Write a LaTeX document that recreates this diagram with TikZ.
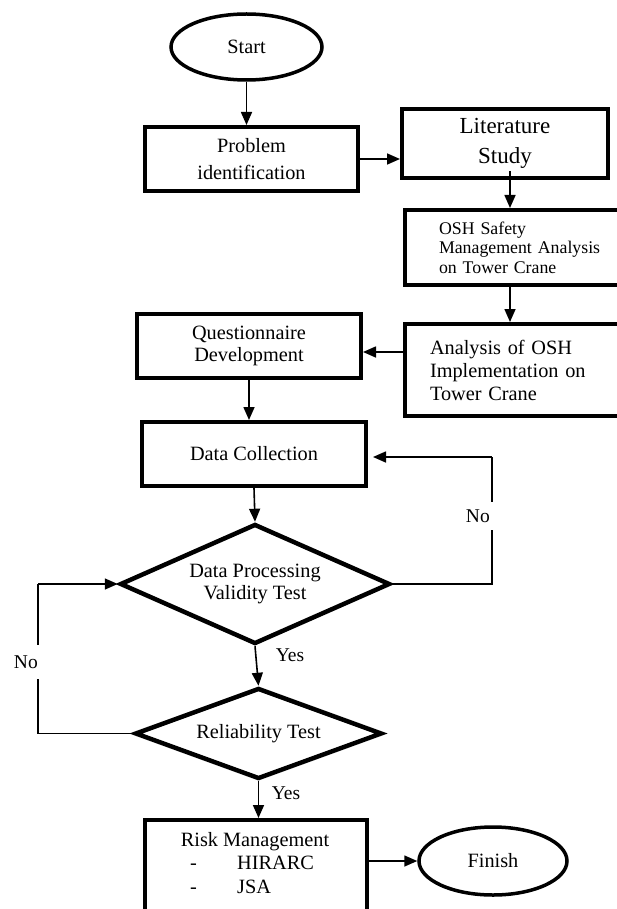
\documentclass[tikz,border=0pt]{standalone}
\usepackage{fontspec}
\setmainfont{Liberation Serif}
\usetikzlibrary{shapes.geometric,arrows.meta}

\newcommand{\boxfont}{\fontsize{20.3}{22}\selectfont}

\begin{document}
\begin{tikzpicture}[x=1pt, y=-1pt,
    procbox/.style={draw, rectangle, line width=4pt, inner sep=0pt, align=center, font=\boxfont},
    termnode/.style={draw, ellipse, line width=3.5pt, inner sep=0pt, font=\boxfont},
    decision/.style={draw, diamond, aspect=2.2, line width=4.5pt, inner sep=0pt, align=center, font=\boxfont},
    link/.style={line width=1.6pt},
    flow/.style={link, -{Triangle[length=13pt,width=11pt]}},
    lbl/.style={font=\fontsize{19.5}{20}\selectfont, inner sep=2pt}]
    \useasboundingbox (0,0) rectangle (617,909);
    \clip (0,0) rectangle (617,909);

    % start and first steps
    \node[termnode, minimum width=151pt, minimum height=66pt] (start) at (246.5,47) {Start};
    \node[procbox, minimum width=213pt, minimum height=64pt, font=\fontsize{20.3}{27}\selectfont]
        (prob) at (251.5,159) {Problem\\identification};
    \node[procbox, minimum width=206pt, minimum height=69pt, font=\fontsize{23}{30}\selectfont]
        (lit) at (505,143.5) {Literature\\Study};
    \node[procbox, minimum width=240pt, minimum height=75pt, text width=172pt, align=left,
        font=\fontsize{17.8}{19.5}\selectfont]
        (osh) at (525,247.5) {OSH Safety\\Management Analysis\\on Tower Crane};
    \node[procbox, minimum width=240pt, minimum height=92pt, text width=190pt, align=left,
        font=\fontsize{20.3}{23}\selectfont]
        (ana) at (525,370) {Analysis of OSH\\Implementation on\\Tower Crane};
    \node[procbox, minimum width=224pt, minimum height=64pt] (ques) at (249,346) {Questionnaire\\Development};
    \node[procbox, minimum width=224pt, minimum height=64pt] (coll) at (254,454) {Data Collection};

    % tests
    \node[decision, minimum width=270pt, minimum height=120pt] (valid) at (255,584) {Data Processing\\Validity Test};
    \node[decision, minimum width=247pt, minimum height=91pt] (rel) at (258.5,733.5) {Reliability Test};

    % risk management and finish
    \node[procbox, minimum width=222pt, minimum height=150pt, anchor=north] (risk) at (256,818) {};
    \node[font=\boxfont, inner sep=0pt] (risktitle) at (255,842) {Risk Management};
    \node[font=\fontsize{20.3}{23.5}\selectfont, align=left, anchor=west, inner sep=0pt]
        (riskitems) at (190,875) {\makebox[47pt][l]{-}HIRARC\\\makebox[47pt][l]{-}JSA};
    \node[termnode, minimum width=148pt, minimum height=68pt] (finish) at (493,861) {Finish};

    % loop corners
    \coordinate (rbot) at (492,584);
    \coordinate (rtop) at (492,457);
    \coordinate (lbot) at (38,733.5);
    \coordinate (ltop) at (38,584);

    % connectors
    \draw[flow] (start.south) -- (start.south |- prob.north);
    \draw[flow] (prob.east) -- (prob.east -| lit.west);
    \draw[flow] ([xshift=5pt,yshift=9pt]lit.south) -- ([xshift=5pt]lit.south |- osh.north);
    \draw[flow] ([xshift=-15pt]osh.south) -- ([xshift=-15pt]ana.north);
    \draw[flow] ([yshift=-6pt]ques.east -| ana.west) -- ([yshift=-6pt]ques.east);
    \draw[flow] (ques.south) -- (ques.south |- coll.north);
    \draw[flow] (coll.south) -- (valid.north);
    \draw[flow] (valid.south) -- (rel.north);
    \draw[flow] (rel.south) -- (rel.south |- risk.north);
    \draw[flow] (finish.west -| risk.east) -- (finish.west);
    \draw[link] (valid.east) -- (rbot) -- (rtop);
    \draw[flow] (rtop) -- ([xshift=5pt]coll.east |- rtop);
    \draw[link] (rel.west) -- (lbot) -- (ltop);
    \draw[flow] (ltop) -- (valid.west);

    % labels
    \node[lbl, fill=white, anchor=east, inner xsep=5pt, inner ysep=8pt] (noright) at (495,516) {No};
    \node[lbl, fill=white, anchor=east, inner xsep=4pt, inner ysep=11pt] (noleft) at (42,662) {No};
    \node[lbl] (yesvalid) at (290,655) {Yes};
    \node[lbl] (yesrel) at (286,793) {Yes};
\end{tikzpicture}
\end{document}
